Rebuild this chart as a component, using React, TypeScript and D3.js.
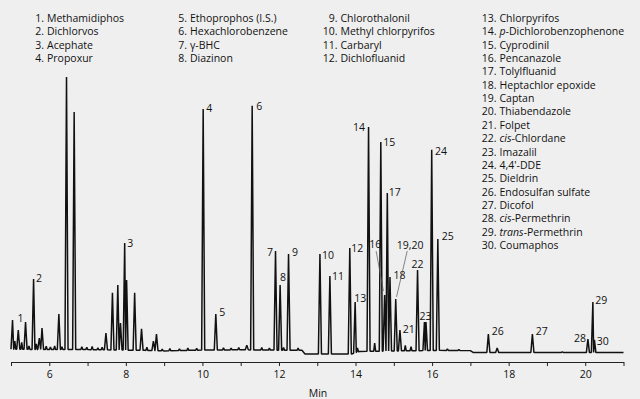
import React, {useEffect, useRef} from 'react';
import * as d3 from 'd3';

const WIDTH = 640;
const HEIGHT = 399;
const FONT = '"Open Sans", "Noto Sans", sans-serif';

// Legend: compound names, numbered 1..30
const compoundNames = [
  'Methamidiphos', 'Dichlorvos', 'Acephate', 'Propoxur',
  'Ethoprophos (I.S.)', 'Hexachlorobenzene', 'γ-BHC', 'Diazinon',
  'Chlorothalonil', 'Methyl chlorpyrifos', 'Carbaryl', 'Dichlofluanid',
  'Chlorpyrifos', 'p-Dichlorobenzophenone', 'Cyprodinil', 'Pencanazole',
  'Tolylfluanid', 'Heptachlor epoxide', 'Captan', 'Thiabendazole', 'Folpet',
  'cis-Chlordane', 'Imazalil', "4,4'-DDE", 'Dieldrin', 'Endosulfan sulfate',
  'Dicofol', 'cis-Permethrin', 'trans-Permethrin', 'Coumaphos',
];
const italicPrefixes = ['p', 'cis', 'trans'];
// how many compounds go in each legend column
const legendColumnSizes = [4, 4, 4, 18];

// Chromatogram peaks (retention time in min, height in % of largest peak)
const peakTimes = [
  5.04, 5.19, 5.38, 5.59, 5.74, 5.81, 6.25, 6.45, 6.65,
  7.48, 7.65, 7.79, 7.86, 7.97, 8.02, 8.23, 8.41, 8.72, 8.8,
  10.02, 10.35, 11.16, 11.3, 11.91, 12.03, 12.25,
  13.07, 13.33, 13.85, 13.99, 14.34, 14.66, 14.76, 14.83, 14.9, 15.05, 15.16,
  15.62, 15.8, 15.84, 15.99, 16.15, 17.47, 17.7, 18.62, 20.07, 20.2, 20.24,
];
const peakHeights = [
  11.6, 8.0, 10.9, 26.5, 5.1, 8.7, 13.8, 100, 87.3,
  6.9, 21.5, 24.4, 10.5, 39.6, 26.2, 21.5, 8.4, 4.0, 6.5,
  88.4, 13.8, 2.5, 89.5, 36.7, 24.4, 35.6,
  35.6, 27.6, 37.8, 18.2, 81.8, 76.4, 20.7, 57.8, 27.3, 19.3, 8.0,
  29.8, 10.9, 10.9, 73.5, 41.1, 6.5, 1.5, 6.5, 4.7, 18.2, 4.4,
];
const peakNumbers = [
  '', '', '1', '2', '', '', '', '', '',
  '', '', '', '', '3', '', '', '', '', '',
  '4', '5', '', '6', '7', '8', '9',
  '10', '11', '12', '13', '14', '15', '16', '17', '18', '19,20', '21',
  '22', '23', '', '24', '25', '26', '', '27', '28', '29', '30',
];

// small baseline bumps (height above baseline)
const noiseTimes = [
  5.1, 5.28, 5.47, 5.66, 5.92, 6.03, 6.14, 6.33, 6.85, 6.98,
  7.12, 7.27, 7.38, 8.55, 8.95, 9.15, 9.4, 9.62, 9.85, 10.55,
  10.75, 10.95, 11.55, 11.75, 12.12, 12.5, 14.5, 14.05, 15.3, 15.45,
  16.4, 16.7, 19.4,
];
const noiseHeights = [
  3, 2.5, 1.2, 2, 1.2, 0.9, 1.3, 1, 1, 0.8,
  1.2, 0.7, 0.9, 1.2, 0.6, 0.8, 0.6, 0.9, 0.7, 0.8,
  0.6, 0.8, 0.9, 0.7, 1, 0.8, 3, 1.5, 2, 1.5,
  0.5, 0.4, 0.3,
];

// baseline drift
const baseTimes = [5.0, 6.0, 6.9, 7.4, 8.5, 9.0, 10.0, 11.0, 12.6, 12.68, 13.9, 14.1, 16.2, 17.0, 17.08, 21.0];
const baseValues = [1.0, 0.9, 0.9, 0.8, 0.6, 0.4, 0.7, 0.8, 0.6, -0.7, -0.7, 0.2, 0.6, 0.5, -0.2, -0.2];

// x axis
const tickValues = [5, 6, 7, 8, 9, 10, 11, 12, 13, 14, 15, 16, 17, 18, 19, 20, 21];
const tickLabels = [6, 8, 10, 12, 14, 16, 18, 20];

// label placement relative to the peak apex (layout only)
const labelPlacement: Record<string, {dx: number; dy: number; anchor: string}> = {
  '1': {dx: -2, dy: 0, anchor: 'end'},
  '2': {dx: 2.5, dy: 3, anchor: 'start'},
  '3': {dx: 2.5, dy: 4, anchor: 'start'},
  '4': {dx: 3, dy: 3, anchor: 'start'},
  '5': {dx: 3.5, dy: 2, anchor: 'start'},
  '6': {dx: 4, dy: 4, anchor: 'start'},
  '7': {dx: -2.5, dy: 5, anchor: 'end'},
  '8': {dx: 0, dy: -4, anchor: 'start'},
  '9': {dx: 3.5, dy: 2, anchor: 'start'},
  '10': {dx: 2, dy: 5, anchor: 'start'},
  '11': {dx: 2, dy: 4, anchor: 'start'},
  '12': {dx: 1.5, dy: 4, anchor: 'start'},
  '13': {dx: -1, dy: 0, anchor: 'start'},
  '14': {dx: -3.5, dy: 4, anchor: 'end'},
  '15': {dx: 2.5, dy: 4, anchor: 'start'},
  '16': {dx: -15.4, dy: -47, anchor: 'start'},
  '17': {dx: 1.5, dy: 3, anchor: 'start'},
  '18': {dx: 3.5, dy: 2, anchor: 'start'},
  '19,20': {dx: 1, dy: -50, anchor: 'start'},
  '21': {dx: 2.7, dy: 3, anchor: 'start'},
  '22': {dx: 0, dy: -2.5, anchor: 'middle'},
  '23': {dx: 1, dy: -2, anchor: 'middle'},
  '24': {dx: 3.3, dy: 5, anchor: 'start'},
  '25': {dx: 4, dy: 1, anchor: 'start'},
  '26': {dx: 3.4, dy: 1, anchor: 'start'},
  '27': {dx: 3.4, dy: 0.5, anchor: 'start'},
  '28': {dx: -2, dy: 3, anchor: 'end'},
  '29': {dx: 2.3, dy: 2, anchor: 'start'},
  '30': {dx: 2.4, dy: 5, anchor: 'start'},
};
// leader lines: from label point (relative to apex) to peak point
const leaders: Record<string, [number, number, number, number]> = {
  '16': [-8.5, -44, -1.2, -4],
  '19,20': [11.5, -48, 0.8, -2],
};

const x = d3.scaleLinear().domain([5, 21]).range([11, 623.5]);
const y = d3.scaleLinear().domain([0, 100]).range([352, 77]);
const base = d3.scaleLinear().domain(baseTimes).range(baseValues).clamp(true);

const buildTrace = (): [number, number][] => {
  const peaks = [
    ...peakTimes.map((t, i) => ({t, top: peakHeights[i], hw: 0.04})),
    ...noiseTimes.map((t, i) => ({t, top: base(t) + noiseHeights[i], hw: 0.025})),
  ].sort((a, b) => a.t - b.t);
  const pts: [number, number][] = [];
  const spans: [number, number][] = [];
  peaks.forEach((p, i) => {
    const prev = peaks[i - 1];
    const next = peaks[i + 1];
    const l = prev ? Math.max(p.t - p.hw, (prev.t + p.t) / 2) : p.t - p.hw;
    const r = next ? Math.min(p.t + p.hw, (p.t + next.t) / 2) : p.t + p.hw;
    pts.push([l, base(l)], [p.t, p.top], [r, base(r)]);
    spans.push([l, r]);
  });
  baseTimes.forEach((t) => {
    if (!spans.some(([l, r]) => t >= l && t <= r)) pts.push([t, base(t)]);
  });
  return pts.sort((a, b) => a[0] - b[0]);
};

const Legend = () => {
  let n = 0;
  const colX = [44, 187, 337.5, 496.5];
  return (
    <g fontFamily={FONT} fontSize={10.5} fill="#111">
      {legendColumnSizes.map((size, c) =>
        d3.range(size).map((r) => {
          n += 1;
          const name = compoundNames[n - 1];
          const dash = name.indexOf('-');
          const prefix = dash > 0 ? name.slice(0, dash) : '';
          const italic = italicPrefixes.includes(prefix);
          const yy = 22.1 + r * 13.34;
          return (
            <g key={n}>
              <text x={colX[c]} y={yy} textAnchor="end">{`${n}.`}</text>
              <text x={colX[c] + 3} y={yy}>
                {italic ? (
                  <>
                    <tspan fontStyle="italic">{prefix}</tspan>
                    {name.slice(dash)}
                  </>
                ) : (
                  name
                )}
              </text>
            </g>
          );
        }),
      )}
    </g>
  );
};

export default function App() {
  const axisRef = useRef<SVGGElement>(null);
  const trace = buildTrace();
  const line = d3
    .line<[number, number]>()
    .x((d) => x(d[0]))
    .y((d) => y(d[1]));

  useEffect(() => {
    if (!axisRef.current) return;
    const g = d3.select(axisRef.current);
    g.selectAll('*').remove();
    g.call(
      d3
        .axisBottom(x)
        .tickValues(tickValues)
        .tickSize(4)
        .tickSizeOuter(0)
        .tickPadding(5)
        .tickFormat((d) => (tickLabels.includes(d as number) ? String(d) : '')),
    );
    g.select('.domain').attr('stroke', '#222');
    g.selectAll('.tick line').attr('stroke', '#222');
    g.selectAll('.tick text')
      .attr('font-family', FONT)
      .attr('font-size', 10.5)
      .attr('fill', '#111');
  }, []);

  return (
    <>
      <style>{'body{margin:0}'}</style>
      <svg width={WIDTH} height={HEIGHT} style={{display: 'block'}}>
        <rect width={WIDTH} height={HEIGHT} fill="#efefef" />
        <Legend />
        <path
          d={line(trace) || ''}
          fill="none"
          stroke="#111"
          strokeWidth={1.5}
          strokeLinejoin="bevel"
        />
        <g fontFamily={FONT} fontSize={10.5} fill="#111">
          {peakNumbers.map((lab, i) => {
            if (!lab) return null;
            const px = x(peakTimes[i]);
            const py = y(peakHeights[i]);
            const p = labelPlacement[lab];
            const ld = leaders[lab];
            return (
              <g key={lab}>
                {ld && (
                  <line
                    x1={px + ld[0]}
                    y1={py + ld[1]}
                    x2={px + ld[2]}
                    y2={py + ld[3]}
                    stroke="#555"
                    strokeWidth={0.7}
                  />
                )}
                <text x={px + p.dx} y={py + p.dy} textAnchor={p.anchor}>
                  {lab}
                </text>
              </g>
            );
          })}
        </g>
        <g ref={axisRef} transform="translate(0,362)" />
        <text
          x={318}
          y={397}
          textAnchor="middle"
          fontFamily={FONT}
          fontSize={10.5}
          fill="#111">
          Min
        </text>
      </svg>
    </>
  );
}
